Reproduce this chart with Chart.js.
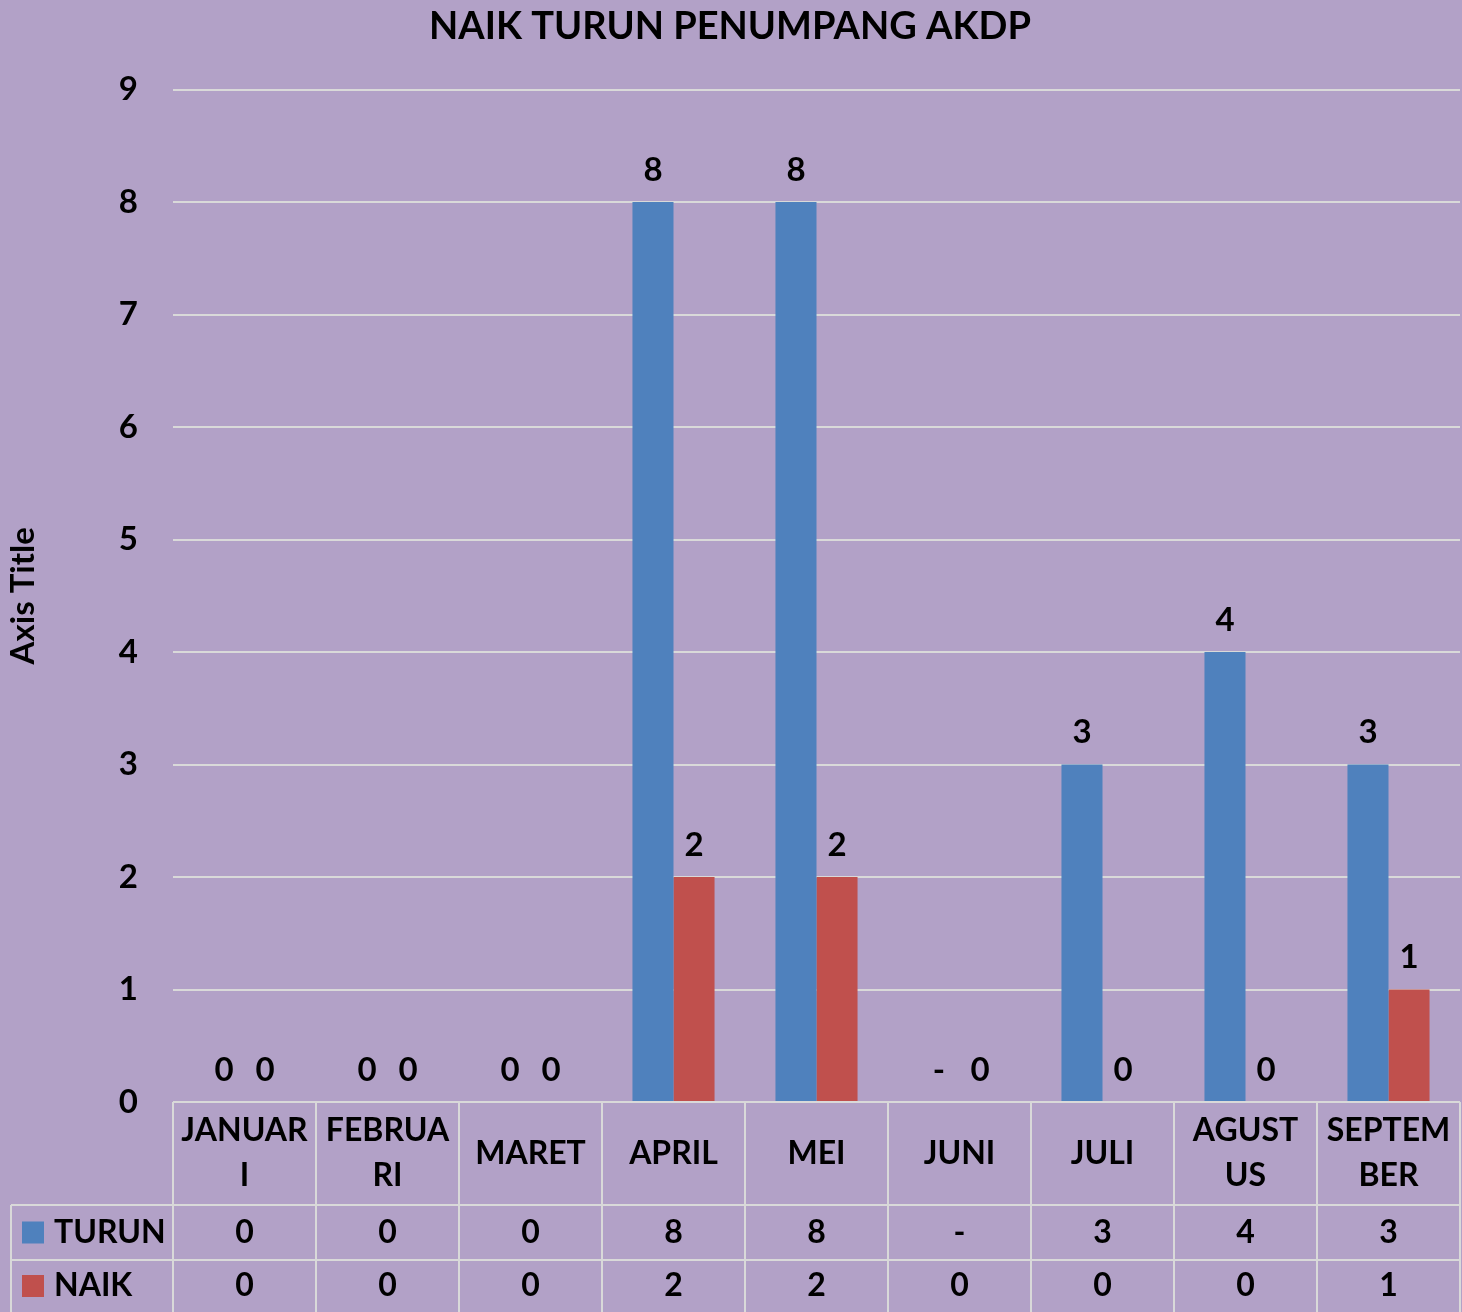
<!DOCTYPE html>
<html>
<head>
<meta charset="utf-8">
<script src="https://cdn.jsdelivr.net/npm/chart.js@4"></script>
<style>
  body { margin: 0; background: #B2A1C7; }
  #wrap { width: 1462px; height: 1312px; }
</style>
</head>
<body>
<div id="wrap"><canvas id="chart"></canvas></div>
<script>
const categories = [['JANUAR', 'I'], ['FEBRUA', 'RI'], 'MARET', 'APRIL', 'MEI', 'JUNI', 'JULI', ['AGUST', 'US'], ['SEPTEM', 'BER']];
const turun = [0, 0, 0, 8, 8, null, 3, 4, 3]; // JUNI shown as "-"
const naik = [0, 0, 0, 2, 2, 0, 0, 0, 1];
const seriesNames = ['TURUN', 'NAIK'];
const seriesColors = ['#4F81BD', '#C0504D'];
const yMax = 9;

const FONT = 'Lato, "Open Sans", sans-serif';
const fmt = v => (v === null || v === undefined) ? '-' : String(v);

const bgPlugin = {
    id: 'bg',
    beforeDraw(chart) {
        const ctx = chart.ctx;
        ctx.save();
        ctx.fillStyle = '#B2A1C7';
        ctx.fillRect(0, 0, chart.width, chart.height);
        ctx.restore();
    }
};

// value labels above each bar
const labelPlugin = {
    id: 'valueLabels',
    afterDatasetsDraw(chart) {
        const ctx = chart.ctx;
        const y = chart.scales.y;
        ctx.save();
        ctx.font = 'bold 33px ' + FONT;
        ctx.fillStyle = '#000';
        ctx.textAlign = 'center';
        ctx.textBaseline = 'middle';
        chart.data.datasets.forEach((ds, di) => {
            chart.getDatasetMeta(di).data.forEach((el, i) => {
                const v = ds.data[i];
                const top = y.getPixelForValue(v === null ? 0 : v);
                ctx.fillText(fmt(v), el.x, top - 32);
            });
        });
        ctx.restore();
    }
};

// data table under the plot
const tablePlugin = {
    id: 'dataTable',
    afterDraw(chart) {
        const ctx = chart.ctx;
        const x = chart.scales.x;
        const area = chart.chartArea;
        const n = categories.length;
        const step = (area.right - area.left) / n;
        const top = area.bottom;
        const row1 = top + 103;
        const row2 = row1 + 55;
        const bottom = chart.height;
        const leftEdge = 11;

        ctx.save();
        ctx.strokeStyle = '#D9D9D9';
        ctx.lineWidth = 2;
        ctx.beginPath();
        [row1, row2].forEach(yy => { ctx.moveTo(leftEdge, yy); ctx.lineTo(area.right, yy); });
        ctx.moveTo(area.left, top); ctx.lineTo(area.right, top);
        ctx.moveTo(leftEdge, row1); ctx.lineTo(leftEdge, bottom);
        for (let i = 0; i <= n; i++) {
            const xx = area.left + i * step;
            ctx.moveTo(xx, top); ctx.lineTo(xx, bottom);
        }
        ctx.stroke();

        ctx.font = 'bold 32px ' + FONT;
        ctx.fillStyle = '#000';
        ctx.textAlign = 'center';
        ctx.textBaseline = 'middle';
        const headMid = (top + row1) / 2;
        categories.forEach((c, i) => {
            const cx = x.getPixelForValue(i);
            const lines = Array.isArray(c) ? c : [c];
            const lh = 45;
            lines.forEach((ln, k) => {
                ctx.fillText(ln, cx, headMid + (k - (lines.length - 1) / 2) * lh);
            });
        });

        const rows = [turun, naik];
        const mids = [(row1 + row2) / 2, (row2 + bottom) / 2];
        rows.forEach((vals, r) => {
            vals.forEach((v, i) => {
                ctx.fillText(fmt(v), x.getPixelForValue(i), mids[r]);
            });
            ctx.fillStyle = seriesColors[r];
            ctx.fillRect(22, mids[r] - 11, 22, 22);
            ctx.fillStyle = '#000';
            ctx.textAlign = 'left';
            ctx.fillText(seriesNames[r], 54, mids[r]);
            ctx.textAlign = 'center';
        });
        ctx.restore();
    }
};

new Chart(document.getElementById('chart'), {
    type: 'bar',
    data: {
        labels: categories,
        datasets: [
            { label: seriesNames[0], data: turun, backgroundColor: seriesColors[0] },
            { label: seriesNames[1], data: naik, backgroundColor: seriesColors[1] }
        ]
    },
    options: {
        responsive: true,
        maintainAspectRatio: false,
        animation: false,
        categoryPercentage: 0.574,
        barPercentage: 1,
        layout: { padding: { left: 0, right: 2, top: 0, bottom: 210 } },
        plugins: {
            legend: { display: false },
            tooltip: { enabled: false },
            title: {
                display: true,
                text: 'NAIK TURUN PENUMPANG AKDP',
                color: '#000',
                font: { family: FONT, size: 38, weight: 'bold' },
                padding: { top: 4, bottom: 40 }
            }
        },
        scales: {
            x: { display: false },
            y: {
                min: 0,
                max: yMax,
                afterFit(scale) { scale.width = 173; },
                ticks: {
                    stepSize: 1,
                    padding: 35,
                    color: '#000',
                    font: { family: FONT, size: 33, weight: 'bold' }
                },
                grid: { color: '#D9D9D9', lineWidth: 2, drawTicks: false },
                border: { display: false },
                title: {
                    display: true,
                    text: 'Axis Title',
                    color: '#000',
                    font: { family: FONT, size: 33, weight: 'bold' },
                    padding: { top: 4, bottom: 0 }
                }
            }
        }
    },
    plugins: [bgPlugin, labelPlugin, tablePlugin]
});
</script>
</body>
</html>
